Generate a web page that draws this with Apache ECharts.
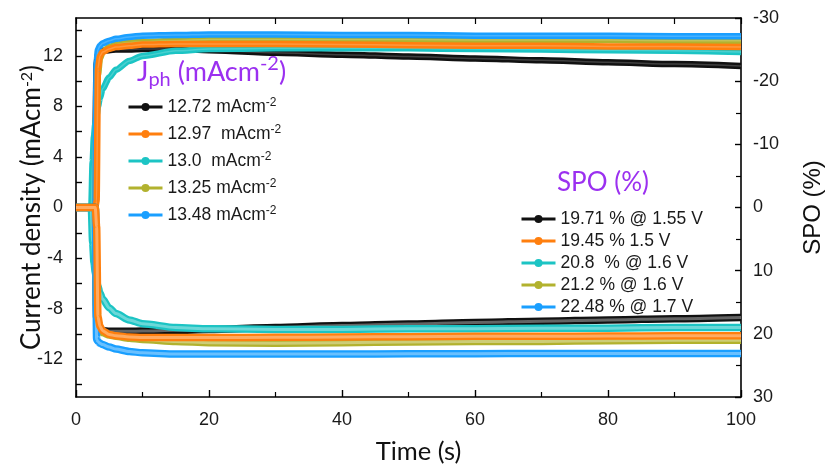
<!DOCTYPE html>
<html>
<head>
<meta charset="utf-8">
<script src="https://cdn.jsdelivr.net/npm/echarts@6/dist/echarts.min.js"></script>
<style>
  html, body { margin: 0; padding: 0; background: #fff; }
  #chart { width: 828px; height: 470px; }
</style>
</head>
<body>
<div id="chart"></div>
<script>
// Sample times (s) shared by every trace
const time = [0, 2.3, 2.5, 2.7, 2.9, 3.1, 3.3, 3.6, 4, 5, 6, 8, 10, 15, 20, 30, 40, 50, 60, 70, 80, 90, 100];

// Photocurrent density traces (mA cm^-2)
const jNames = ['12.72 mAcm-2', '12.97  mAcm-2', '13.0  mAcm-2', '13.25 mAcm-2', '13.48 mAcm-2'];
const jBlack  = [0, 0, 0, 0, 5.0, 11.4, 12.1, 12.3, 12.4, 12.45, 12.5, 12.5, 12.55, 12.55, 12.45, 12.25, 12.1, 11.95, 11.8, 11.65, 11.5, 11.35, 11.2];
const jOrange = [0, 0, 0, 0, 0, 0.5, 11.0, 12.0, 12.3, 12.55, 12.7, 12.8, 12.9, 12.95, 12.95, 12.95, 12.9, 12.85, 12.8, 12.8, 12.75, 12.75, 12.7];
const jCyan   = [0, 0, 3.6, 5.6, 6.6, 7.3, 8.0, 8.7, 9.4, 10.3, 10.9, 11.6, 12.0, 12.4, 12.55, 12.6, 12.6, 12.6, 12.55, 12.5, 12.45, 12.4, 12.3];
const jOlive  = [0, 0, 0, 0, 0, 8.8, 10.5, 11.8, 12.3, 12.7, 12.9, 13.05, 13.1, 13.2, 13.3, 13.3, 13.3, 13.3, 13.25, 13.25, 13.25, 13.2, 13.2];
const jBlue   = [0, 0, 0, 0, 0, 11.5, 12.5, 12.8, 13.0, 13.2, 13.35, 13.5, 13.6, 13.65, 13.7, 13.7, 13.65, 13.65, 13.6, 13.6, 13.6, 13.55, 13.55];

// Stabilised power output traces (%)
const spoNames = ['19.71 % @ 1.55 V', '19.45 % 1.5 V', '20.8  % @ 1.6 V', '21.2 % @ 1.6 V', '22.48 % @ 1.7 V'];
const spoBlack  = [0, 0, 0, 0, 0, 17.5, 18.8, 19.3, 19.5, 19.6, 19.6, 19.6, 19.55, 19.45, 19.3, 19.0, 18.7, 18.45, 18.2, 18.0, 17.8, 17.6, 17.4];
const spoOrange = [0, 0, 0, 0, 0, 3.0, 17.3, 18.8, 19.5, 20.1, 20.3, 20.5, 20.6, 20.6, 20.6, 20.55, 20.5, 20.45, 20.4, 20.4, 20.35, 20.3, 20.3];
const spoCyan   = [0, 0, 5.5, 8.7, 10.3, 11.6, 12.5, 13.5, 14.5, 15.9, 16.8, 17.8, 18.4, 19.0, 19.2, 19.3, 19.3, 19.2, 19.2, 19.1, 19.1, 19.0, 19.0];
const spoOlive  = [0, 0, 0, 0, 0, 15.5, 18.0, 19.2, 19.8, 20.2, 20.4, 20.7, 20.9, 21.2, 21.4, 21.5, 21.4, 21.3, 21.2, 21.2, 21.1, 21.0, 21.0];
const spoBlue   = [0, 0, 0, 0, 0, 20.9, 21.2, 21.5, 21.7, 22.1, 22.4, 22.8, 23.0, 23.2, 23.2, 23.2, 23.2, 23.15, 23.15, 23.1, 23.1, 23.1, 23.1];

// Axis ticks
const xLabels = [0, 20, 40, 60, 80, 100];
const leftLabels = [-12, -8, -4, 0, 4, 8, 12];
const leftTicks = [-14, -12, -10, -8, -6, -4, -2, 0, 2, 4, 6, 8, 10, 12, 14];
const rightLabels = [-30, -20, -10, 0, 10, 20, 30];

const colors = { black: '#111111', orange: '#ff7f0e', cyan: '#1cc4c4', olive: '#b2b22e', blue: '#1a9fff' };
const purple = '#9b30f0';

const pairs = vals => time.map((t, i) => [t, vals[i]]);

// A trace is a thick coloured band with a paler core, like a dense run of hollow markers
function trace(name, vals, color, yAxisIndex, width, coreWidth, coreOpacity) {
  const common = {
    type: 'line', xAxisIndex: 0, yAxisIndex,
    data: pairs(vals),
    symbol: 'circle', showSymbol: false,
    smooth: 0.25, smoothMonotone: 'x',
    emphasis: { disabled: true },
    animation: false
  };
  return [
    Object.assign({}, common, {
      name,
      lineStyle: { color, width, cap: 'butt', join: 'round' },
      itemStyle: { color }
    }),
    Object.assign({}, common, {
      name: name + ' core', silent: true, tooltip: { show: false },
      lineStyle: { color: '#ffffff', width: coreWidth, opacity: coreOpacity, cap: 'butt', join: 'round' },
      itemStyle: { color: '#ffffff' }
    })
  ];
}

const supFmt = n => n.replace(/-2$/, '{sup|-2}');

const chart = echarts.init(document.getElementById('chart'), null, { renderer: 'canvas' });

const tickFont = { fontFamily: 'Liberation Sans', fontSize: 18, color: '#1a1a1a' };
const axisLine = { show: true, onZero: false, lineStyle: { color: '#000', width: 1.6 } };

chart.setOption({
  animation: false,
  backgroundColor: '#fff',
  grid: { left: 76, right: 87, top: 18, bottom: 73, containLabel: false, outerBoundsMode: 'none' },
  xAxis: [
    {
      type: 'value', position: 'bottom', min: 0, max: 100, interval: 20,
      axisLine,
      axisTick: { inside: true, length: 7, lineStyle: { color: '#000', width: 1.4 } },
      minorTick: { show: true, splitNumber: 2, length: 5, lineStyle: { color: '#000', width: 1.2 } },
      splitLine: { show: false },
      axisLabel: Object.assign({ margin: 14, customValues: xLabels }, tickFont),
      name: 'Time (s)', nameLocation: 'middle', nameGap: 42,
      nameTextStyle: { fontFamily: 'Lato', fontSize: 25.5, color: '#111', padding: [0, 0, 0, 20] }
    },
    {
      type: 'value', position: 'top', min: 0, max: 100, interval: 10,
      axisLine,
      axisTick: { inside: true, length: 6, lineStyle: { color: '#000', width: 1.2 } },
      axisLabel: { show: false },
      splitLine: { show: false }
    }
  ],
  yAxis: [
    {
      type: 'value', position: 'left', min: -15, max: 15,
      axisLine,
      axisTick: { inside: true, length: 6, customValues: leftTicks, lineStyle: { color: '#000', width: 1.4 } },
      splitLine: { show: false },
      axisLabel: Object.assign({ margin: 13, customValues: leftLabels }, tickFont),
      name: 'Current density (mAcm{sup|-2})', nameLocation: 'middle', nameRotate: 90, nameGap: 31,
      nameMoveOverlap: false,
      nameTextStyle: {
        fontFamily: 'Lato', fontSize: 26, color: '#111',
        rich: { sup: { fontFamily: 'Lato', fontSize: 16, verticalAlign: 'top', color: '#111' } }
      }
    },
    {
      type: 'value', position: 'right', min: -30, max: 30, interval: 10, inverse: true,
      axisLine,
      axisTick: { inside: true, length: 6, lineStyle: { color: '#000', width: 1.4 } },
      minorTick: { show: true, splitNumber: 2, length: 5, lineStyle: { color: '#000', width: 1.2 } },
      splitLine: { show: false },
      axisLabel: Object.assign({ margin: 12, customValues: rightLabels }, tickFont),
      name: 'SPO (%)', nameLocation: 'middle', nameRotate: 90, nameGap: 60,
      nameTextStyle: { fontFamily: 'Liberation Sans', fontSize: 24, color: '#111' }
    }
  ],
  legend: [
    {
      data: jNames, orient: 'vertical', left: 122, top: 92,
      itemWidth: 34, itemHeight: 10, itemGap: 7, selectedMode: false,
      lineStyle: { width: 3 },
      formatter: supFmt,
      textStyle: {
        fontFamily: 'Liberation Sans', fontSize: 17.5, color: '#1a1a1a', lineHeight: 20,
        rich: { sup: { fontFamily: 'Liberation Sans', fontSize: 12, verticalAlign: 'top', color: '#1a1a1a' } }
      }
    },
    {
      data: spoNames, orient: 'vertical', left: 515, top: 204,
      itemWidth: 34, itemHeight: 10, itemGap: 2, selectedMode: false,
      lineStyle: { width: 3 },
      textStyle: { fontFamily: 'Liberation Sans', fontSize: 17.5, color: '#1a1a1a', lineHeight: 20 }
    }
  ],
  graphic: [
    {
      type: 'text', left: 137, top: 54, silent: true,
      style: {
        text: '{a|J}{sub|ph}{a| (mAcm}{sup|-2}{a|)}',
        rich: {
          a:   { fontFamily: 'Lato', fontSize: 27, fill: purple, lineHeight: 36, verticalAlign: 'middle' },
          sub: { fontFamily: 'Lato', fontSize: 20, fill: purple, verticalAlign: 'bottom' },
          sup: { fontFamily: 'Lato', fontSize: 20, fill: purple, verticalAlign: 'top' }
        }
      }
    },
    {
      type: 'text', left: 557, top: 170, silent: true,
      style: { text: 'SPO (%)', fontFamily: 'Lato', fontSize: 26, fill: purple }
    }
  ],
  series: [].concat(
    trace(jNames[0], jBlack, colors.black, 0, 6.5, 1.5, 0.2),
    trace(jNames[2], jCyan, colors.cyan, 0, 6.5, 1.5, 0.2),
    trace(jNames[3], jOlive, colors.olive, 0, 6.5, 1.5, 0.2),
    trace(jNames[4], jBlue, colors.blue, 0, 6.5, 1.5, 0.2),
    trace(jNames[1], jOrange, colors.orange, 0, 6.5, 1.5, 0.2),
    trace(spoNames[0], spoBlack, colors.black, 1, 7.5, 3, 0.35),
    trace(spoNames[2], spoCyan, colors.cyan, 1, 7.5, 3, 0.35),
    trace(spoNames[3], spoOlive, colors.olive, 1, 7.5, 3, 0.35),
    trace(spoNames[4], spoBlue, colors.blue, 1, 7.5, 3, 0.35),
    trace(spoNames[1], spoOrange, colors.orange, 1, 7.5, 3, 0.35)
  )
});
</script>
</body>
</html>
